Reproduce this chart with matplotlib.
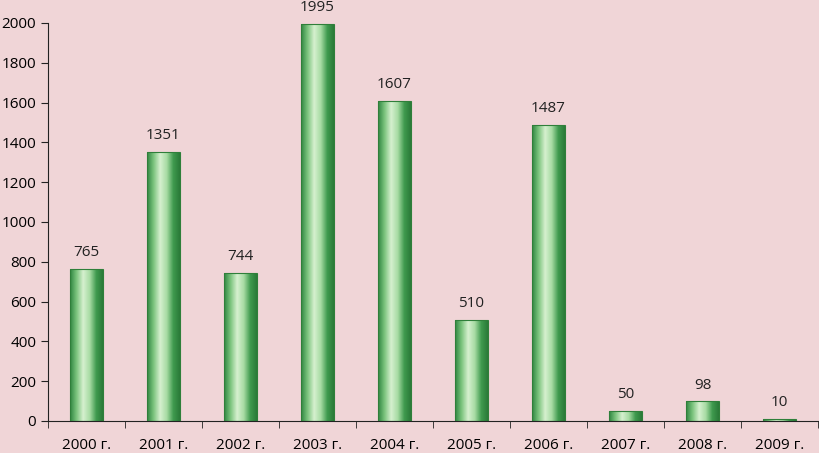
import numpy as np
import matplotlib.pyplot as plt
from matplotlib.colors import LinearSegmentedColormap

years = ['2000 г.', '2001 г.', '2002 г.', '2003 г.', '2004 г.',
         '2005 г.', '2006 г.', '2007 г.', '2008 г.', '2009 г.']
values = [765, 1351, 744, 1995, 1607, 510, 1487, 50, 98, 10]

bg = '#F0D5D7'
fig = plt.figure(figsize=(8.19, 4.53), dpi=100, facecolor=bg)
ax = fig.add_axes([48/819, 32/453, 770/819, 398/453], facecolor=bg)

x = np.arange(len(values))
bars = ax.bar(x, values, width=0.42, color='none', edgecolor='#2F7F3A', linewidth=0.8, zorder=3)

# gradient fill: dark edges, light centre
cmap = LinearSegmentedColormap.from_list('g', ['#2E8540', '#7CC47E', '#D6F0CF', '#A8DCA4', '#3F9A4E', '#2A7A38'])
grad = np.linspace(0, 1, 256).reshape(1, -1)
for b in bars:
    x0, w, h = b.get_x(), b.get_width(), b.get_height()
    im = ax.imshow(grad, cmap=cmap, aspect='auto', extent=[x0, x0 + w, 0, h], zorder=2)
    im.set_clip_path(b)

for xi, v in zip(x, values):
    ax.text(xi, v + 45, str(v), ha='center', va='bottom', fontsize=11,
            family='Open Sans', color='#222222')

ax.set_xlim(-0.5, len(values) - 0.5)
ax.set_ylim(0, 2000)
ax.set_yticks(range(0, 2001, 200))
ax.set_xticks(x)
ax.set_xticklabels(years, family='Open Sans', fontsize=11)
ax.set_xticks(np.arange(-0.5, len(values), 1), minor=True)
ax.tick_params(axis='x', which='major', length=0, pad=12)
ax.tick_params(axis='x', which='minor', length=5, direction='out', color='#222222')
ax.tick_params(axis='y', length=5, direction='out', color='#222222', labelsize=11)
for lab in ax.get_yticklabels():
    lab.set_family('Open Sans')
for s in ['top', 'right']:
    ax.spines[s].set_visible(False)
ax.spines['left'].set_color('#222222')
ax.spines['bottom'].set_color('#222222')

fig.savefig('out.png', dpi=100, facecolor=bg)
